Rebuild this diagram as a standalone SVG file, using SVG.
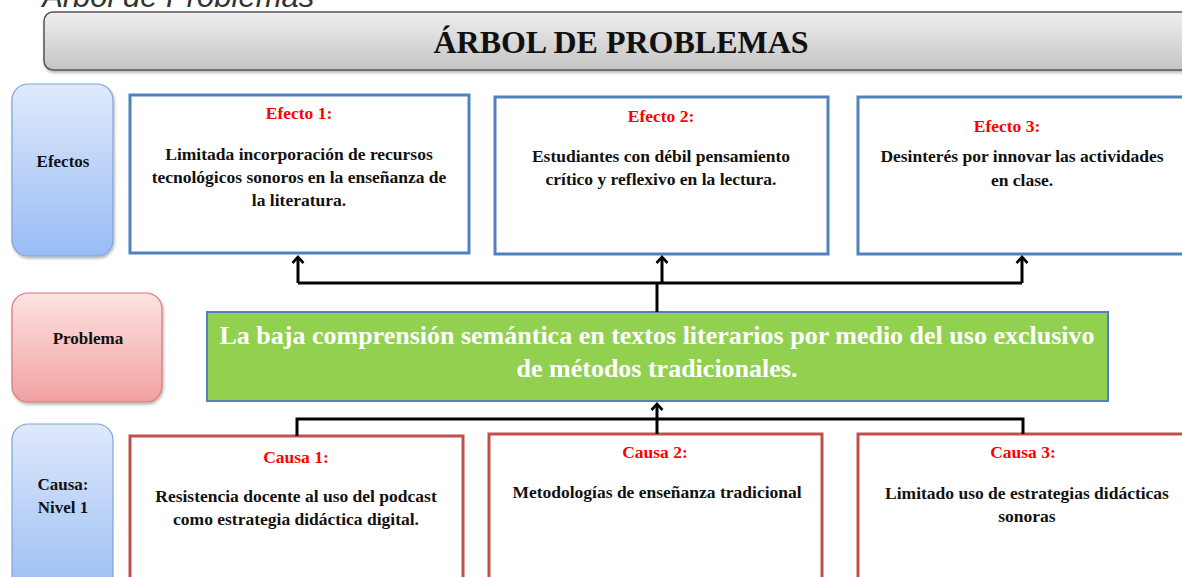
<svg xmlns="http://www.w3.org/2000/svg" width="1182" height="577" viewBox="0 0 1182 577">
<defs>
<linearGradient id="gTitle" x1="0" y1="0" x2="0" y2="1"><stop offset="0" stop-color="#efefef"/><stop offset="1" stop-color="#c4c4c4"/></linearGradient>
<linearGradient id="gBlue" x1="0" y1="0" x2="0" y2="1"><stop offset="0" stop-color="#dfe9fb"/><stop offset="1" stop-color="#98bcf4"/></linearGradient>
<linearGradient id="gRed" x1="0" y1="0" x2="0" y2="1"><stop offset="0" stop-color="#fde2e2"/><stop offset="1" stop-color="#f2a1a1"/></linearGradient>
<marker id="arr" viewBox="-8 -7 10 14" refX="0" refY="0" markerWidth="10" markerHeight="14" markerUnits="userSpaceOnUse" orient="auto">
<path d="M-6,-5.5 L0,0 L-6,5.5" fill="none" stroke="#000" stroke-width="2.6"/>
</marker>
<filter id="sh" x="-5%" y="-5%" width="110%" height="115%"><feDropShadow dx="1" dy="2" stdDeviation="1.5" flood-color="#000" flood-opacity="0.3"/></filter>
</defs>
<style>
.t{font-family:"Liberation Serif","Times New Roman",serif;font-weight:bold;text-anchor:middle}
.b{font-size:17.5px;fill:#111}
.r{font-size:17.5px;fill:#ff0000}
.lab{font-size:17px;fill:#111}
.eff{fill:#fff;stroke:#4f81bd;stroke-width:3}
.cau{fill:#fff;stroke:#c0504d;stroke-width:3}
.side{stroke-width:1.2}
.con{fill:none;stroke:#000;stroke-width:3}
</style>
<rect width="1182" height="577" fill="#fff"/>
<text x="42" y="7" font-family="Liberation Sans, Arial, sans-serif" font-style="italic" font-size="31" fill="#333">Árbol de Problemas</text>

<g id="title">
<rect x="44" y="12" width="1160" height="58" rx="9" fill="url(#gTitle)" stroke="#555" stroke-width="1.5" filter="url(#sh)"/>
<text class="t" x="621" y="53" font-size="32" fill="#111">ÁRBOL DE PROBLEMAS</text>
</g>

<g id="lbl-efectos">
<rect x="12" y="84" width="101" height="172" rx="16" fill="url(#gBlue)" stroke="#7ea4d6" class="side" filter="url(#sh)"/>
<text class="t lab" x="63" y="167">Efectos</text>
</g>
<g id="lbl-problema">
<rect x="12" y="293" width="150" height="109" rx="16" fill="url(#gRed)" stroke="#d47a7a" class="side" filter="url(#sh)"/>
<text class="t lab" x="88" y="344">Problema</text>
</g>
<g id="lbl-causa">
<rect x="12" y="424" width="101" height="175" rx="16" fill="url(#gBlue)" stroke="#7ea4d6" class="side"/>
<text class="t lab" x="63" y="490">Causa:</text>
<text class="t lab" x="63" y="513">Nivel 1</text>
</g>

<g id="efecto1">
<rect class="eff" x="130" y="95" width="339" height="158"/>
<text class="t r" x="299" y="119">Efecto 1:</text>
<text class="t b" x="299" y="160">Limitada incorporación de recursos</text>
<text class="t b" x="299" y="183">tecnológicos sonoros en la enseñanza de</text>
<text class="t b" x="299" y="206">la literatura.</text>
</g>
<g id="efecto2">
<rect class="eff" x="495" y="97" width="333" height="157"/>
<text class="t r" x="661" y="122">Efecto 2:</text>
<text class="t b" x="661" y="162">Estudiantes con débil pensamiento</text>
<text class="t b" x="661" y="185">crítico y reflexivo en la lectura.</text>
</g>
<g id="efecto3">
<rect class="eff" x="858" y="97" width="340" height="157"/>
<text class="t r" x="1007" y="132">Efecto 3:</text>
<text class="t b" x="1022" y="162">Desinterés por innovar las actividades</text>
<text class="t b" x="1022" y="186">en clase.</text>
</g>

<g id="problema">
<rect x="207" y="312" width="901" height="89" fill="#92d050" stroke="#4f81bd" stroke-width="2"/>
<text class="t" x="657" y="344" font-size="26" fill="#fff">La baja comprensión semántica en textos literarios por medio del uso exclusivo</text>
<text class="t" x="657" y="377" font-size="26" fill="#fff">de métodos tradicionales.</text>
</g>

<g id="causa1">
<rect class="cau" x="130" y="436" width="333" height="160"/>
<text class="t r" x="296" y="463">Causa 1:</text>
<text class="t b" x="296" y="502">Resistencia docente al uso del podcast</text>
<text class="t b" x="296" y="525">como estrategia didáctica digital.</text>
</g>
<g id="causa2">
<rect class="cau" x="489" y="434" width="333" height="160"/>
<text class="t r" x="655" y="458">Causa 2:</text>
<text class="t b" x="657" y="498">Metodologías de enseñanza tradicional</text>
</g>
<g id="causa3">
<rect class="cau" x="858" y="434" width="340" height="160"/>
<text class="t r" x="1023" y="458">Causa 3:</text>
<text class="t b" x="1027" y="499">Limitado uso de estrategias didácticas</text>
<text class="t b" x="1027" y="522">sonoras</text>
</g>

<g id="connectors">
<path class="con" d="M657,312 V283"/>
<path class="con" d="M298,283 H1022"/>
<path class="con" d="M298,283 V257" marker-end="url(#arr)"/>
<path class="con" d="M662,283 V257" marker-end="url(#arr)"/>
<path class="con" d="M1022,283 V257" marker-end="url(#arr)"/>
<path class="con" d="M297,436 V419 H1023 V434"/>
<path class="con" d="M657,434 V419"/>
<path class="con" d="M657,419 V404" marker-end="url(#arr)"/>
</g>
</svg>
